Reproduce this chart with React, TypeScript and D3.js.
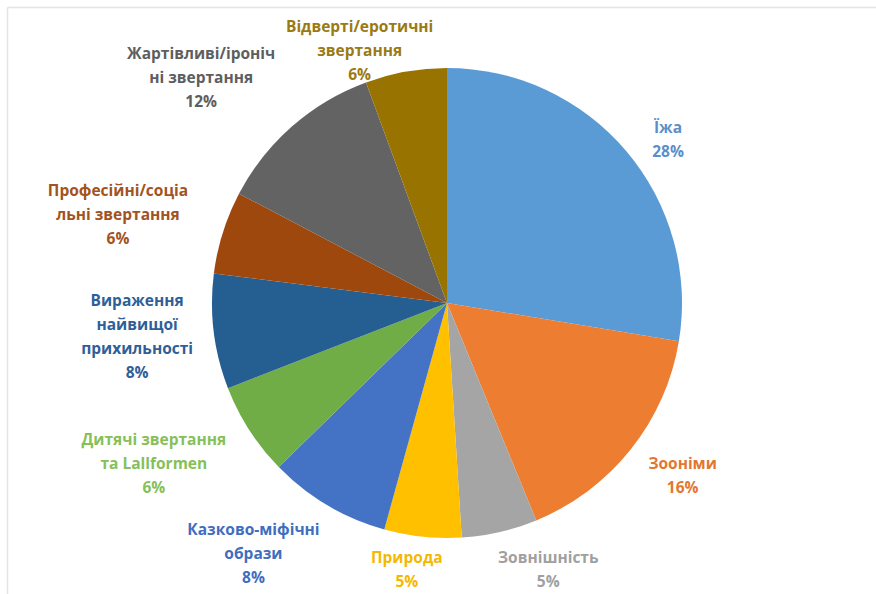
import React from "react";
import * as d3 from "d3";

const categories: string[][] = [
  ["Їжа"],
  ["Зооніми"],
  ["Зовнішність"],
  ["Природа"],
  ["Казково-міфічні", "образи"],
  ["Дитячі звертання", "та Lallformen"],
  ["Вираження", "найвищої", "прихильності"],
  ["Професійні/соціа", "льні звертання"],
  ["Жартівливі/іроніч", "ні звертання"],
  ["Відверті/еротичні", "звертання"],
];

const values: number[] = [27.6, 16.2, 5.2, 5.3, 8.4, 6.4, 7.9, 5.7, 11.7, 5.6];

const sliceColors: string[] = [
  "#5B9BD5",
  "#ED7D31",
  "#A5A5A5",
  "#FFC000",
  "#4472C4",
  "#70AD47",
  "#255E91",
  "#9E480E",
  "#636363",
  "#997300",
];

const labelColors: string[] = [
  "#5B8FCB",
  "#E3772F",
  "#A0A0A0",
  "#F5B800",
  "#3F6EC0",
  "#86C05A",
  "#2E5F98",
  "#A2531E",
  "#5E5E5E",
  "#9A7A12",
];

// label nudges (px) relative to a base point on the slice's mid-angle ray
const labelNudge: [number, number][] = [
  [6, 19],
  [15, -3],
  [38, -8],
  [-11, -14],
  [-50, 8],
  [-56, 8],
  [-30, -1],
  [-60, -4],
  [-60, -13],
  [-38, 25],
];

const W = 876;
const H = 594;
const CX = 447;
const CY = 303;
const R = 235;
const LABEL_R = 282;
const LINE_H = 24;

export default function App() {
  const total = d3.sum(values);
  const pie = d3
    .pie<number>()
    .sort(null)
    .value((d) => d);
  const arcs = pie(values);
  const arc = d3.arc<d3.PieArcDatum<number>>().innerRadius(0).outerRadius(R);

  return (
    <svg
      width={W}
      height={H}
      style={{ position: "absolute", left: 0, top: 0, background: "#fff" }}
    >
      <rect x={0} y={0} width={W} height={H} fill="#fff" />
      <line x1={7.5} y1={7.5} x2={W} y2={7.5} stroke="#e4e4e4" strokeWidth={1.5} />
      <line x1={7.5} y1={7.5} x2={7.5} y2={H} stroke="#e4e4e4" strokeWidth={1.5} />
      <g transform={`translate(${CX},${CY})`}>
        {arcs.map((a, i) => (
          <path key={i} d={arc(a) || ""} fill={sliceColors[i]} />
        ))}
      </g>
      {arcs.map((a, i) => {
        const mid = (a.startAngle + a.endAngle) / 2;
        const bx = CX + Math.sin(mid) * LABEL_R + labelNudge[i][0];
        const by = CY - Math.cos(mid) * LABEL_R + labelNudge[i][1];
        const lines = [...categories[i], `${Math.round((values[i] / total) * 100)}%`];
        const y0 = by - ((lines.length - 1) * LINE_H) / 2;
        return (
          <text
            key={i}
            textAnchor="middle"
            fontFamily="'Open Sans', 'Noto Sans', sans-serif"
            fontWeight={700}
            fontSize={15.5}
            fill={labelColors[i]}
          >
            {lines.map((t, j) => (
              <tspan key={j} x={bx} y={y0 + j * LINE_H} dy="0.35em">
                {t}
              </tspan>
            ))}
          </text>
        );
      })}
    </svg>
  );
}
